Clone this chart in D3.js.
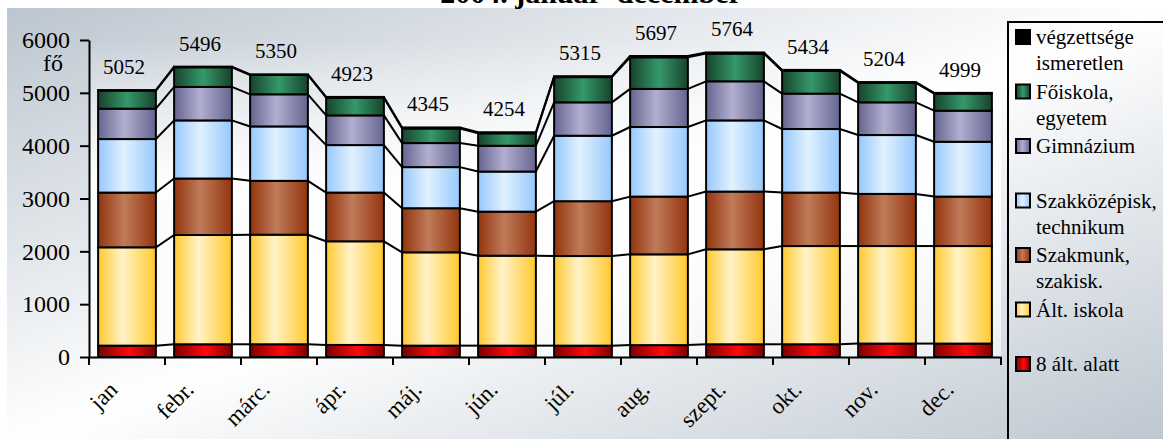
<!DOCTYPE html>
<html>
<head>
<meta charset="utf-8">
<script src="https://cdn.jsdelivr.net/npm/d3@7"></script>
<style>
  html, body { margin: 0; padding: 0; background: #fff; overflow: hidden; }
  svg text { font-family: 'Liberation Serif', 'Times New Roman', serif; fill: #000; }
</style>
</head>
<body>
<div id="chart"></div>
<script>
document.addEventListener('DOMContentLoaded', init, false);

var width = 1163;
var height = 439;

var margin = { top: 40, left: 89, right: 162, bottom: 82 };

// data (fő)
var months = ['jan', 'febr.', 'márc.', 'ápr.', 'máj.', 'jún.', 'júl.', 'aug.', 'szept.', 'okt.', 'nov.', 'dec.'];
var alatt8     = [215, 241, 241, 228, 215, 215, 215, 225, 241, 241, 254, 254];
var altIskola  = [1861, 2068, 2074, 1962, 1766, 1702, 1696, 1718, 1797, 1859, 1846, 1846];
var szakmunk   = [1036, 1069, 1019, 922, 835, 834, 1038, 1093, 1093, 1012, 987, 936];
var szakkozep  = [1013, 1100, 1030, 899, 778, 759, 1239, 1317, 1347, 1203, 1114, 1038];
var gimnazium  = [575, 634, 608, 562, 455, 488, 632, 721, 740, 670, 619, 588];
var foiskola   = [342, 372, 366, 335, 276, 236, 477, 598, 524, 429, 366, 322];
var ismeretlen = [10, 12, 12, 15, 20, 20, 18, 25, 22, 20, 18, 15];

var seriesKeys = ['alatt8', 'altIskola', 'szakmunk', 'szakkozep', 'gimnazium', 'foiskola', 'ismeretlen'];
var legendLabels = [
  ['8 ált. alatt'],
  ['Ált. iskola'],
  ['Szakmunk,', 'szakisk.'],
  ['Szakközépisk,', 'technikum'],
  ['Gimnázium'],
  ['Főiskola,', 'egyetem'],
  ['végzettsége', 'ismeretlen']
];
var yTicks = [0, 1000, 2000, 3000, 4000, 5000, 6000];

// edge colour, light colour, position of the light colour
var fills = {
  alatt8:     ['#7e0000', '#ff0a0a', 0.55],
  altIskola:  ['#ffc82e', '#fff3c8', 0.42],
  szakmunk:   ['#93340f', '#bf7b5a', 0.45],
  szakkozep:  ['#96c8fb', '#e2f1ff', 0.45],
  gimnazium:  ['#64648f', '#b2afd0', 0.45],
  foiskola:   ['#17432c', '#35996a', 0.5],
  ismeretlen: ['#000000', '#000000', 0.5]
};

function init() {

  var svg = d3.select('#chart')
    .append('svg')
      .attr('width', width)
      .attr('height', height);

  var defs = svg.append('defs');
  drawBackground(svg, defs);

  var table = months.map(function (m, i) {
    var row = { month: m };
    row.alatt8 = alatt8[i];
    row.altIskola = altIskola[i];
    row.szakmunk = szakmunk[i];
    row.szakkozep = szakkozep[i];
    row.gimnazium = gimnazium[i];
    row.foiskola = foiskola[i];
    row.ismeretlen = ismeretlen[i];
    return row;
  });

  var stacked = d3.stack().keys(seriesKeys)(table);

  var x = d3.scaleBand()
    .domain(months)
    .range([margin.left, width - margin.right])
    .paddingInner(0.24)
    .paddingOuter(0.12);

  var y = d3.scaleLinear()
    .domain([0, 6000])
    .range([height - margin.bottom, margin.top]);

  seriesKeys.forEach(function (k) {
    var f = fills[k];
    var g = defs.append('linearGradient')
      .attr('id', 'g-' + k)
      .attr('x1', 0).attr('x2', 1).attr('y1', 0).attr('y2', 0);
    g.append('stop').attr('offset', 0).attr('stop-color', f[0]);
    g.append('stop').attr('offset', f[2]).attr('stop-color', f[1]);
    g.append('stop').attr('offset', 1).attr('stop-color', f[0]);
  });

  drawSeriesLines(svg, stacked, x, y);
  drawBars(svg, stacked, x, y);
  drawAxis(svg, x, y);
  drawTotals(svg, table, x, y);
  drawLegend(svg);
}

function drawBackground(svg, defs) {

  var bg = defs.append('linearGradient')
    .attr('id', 'bg')
    .attr('x1', 0).attr('y1', 0).attr('x2', 1).attr('y2', 1);
  bg.append('stop').attr('offset', 0).attr('stop-color', '#bcc6d0');
  bg.append('stop').attr('offset', 0.5).attr('stop-color', '#ffffff');
  bg.append('stop').attr('offset', 1).attr('stop-color', '#bcc6d0');

  var pa = defs.append('linearGradient')
    .attr('id', 'plotbg')
    .attr('x1', 0).attr('y1', 0).attr('x2', 0).attr('y2', 1);
  pa.append('stop').attr('offset', 0).attr('stop-color', '#fff').attr('stop-opacity', 0);
  pa.append('stop').attr('offset', 0.45).attr('stop-color', '#fff').attr('stop-opacity', 0.95);
  pa.append('stop').attr('offset', 1).attr('stop-color', '#fff').attr('stop-opacity', 0.6);

  svg.append('rect')
    .attr('x', 7)
    .attr('y', 8)
    .attr('width', width)
    .attr('height', height)
    .attr('fill', 'url(#bg)');

  svg.append('rect')
    .attr('x', margin.left)
    .attr('y', margin.top)
    .attr('width', width - margin.left - margin.right)
    .attr('height', height - margin.top - margin.bottom)
    .attr('fill', 'url(#plotbg)');

  // title, mostly cut off by the top edge
  svg.append('text')
    .attr('x', 591)
    .attr('y', 3)
    .style('text-anchor', 'middle')
    .style('font-size', '30px')
    .style('font-weight', 'bold')
    .text('2004. január–december');
}

function drawSeriesLines(svg, stacked, x, y) {

  var segs = [];
  stacked.forEach(function (s) {
    for (var i = 0; i < s.length - 1; i++) {
      segs.push({ a: s[i], b: s[i + 1], ia: i });
    }
  });

  svg.append('g')
    .selectAll('line')
      .data(segs)
      .enter()
    .append('line')
      .attr('x1', function (d) { return x(months[d.ia]) + x.bandwidth(); })
      .attr('x2', function (d) { return x(months[d.ia + 1]); })
      .attr('y1', function (d) { return y(d.a[1]); })
      .attr('y2', function (d) { return y(d.b[1]); })
      .attr('stroke', '#000')
      .attr('stroke-width', 2);
}

function drawBars(svg, stacked, x, y) {

  svg.append('g')
    .selectAll('g')
      .data(stacked)
      .enter()
    .append('g')
      .attr('fill', function (d) { return 'url(#g-' + d.key + ')'; })
    .selectAll('rect')
      .data(function (d) { return d; })
      .enter()
    .append('rect')
      .attr('x', function (d) { return x(d.data.month); })
      .attr('y', function (d) { return y(d[1]); })
      .attr('width', x.bandwidth())
      .attr('height', function (d) { return y(d[0]) - y(d[1]); })
      .attr('stroke', '#000')
      .attr('stroke-width', 2);
}

function drawAxis(svg, x, y) {

  var base = height - margin.bottom;

  var yAxis = svg.append('g')
      .attr('transform', 'translate(' + margin.left + ',0)')
      .call(d3.axisLeft(y)
        .tickValues(yTicks)
        .tickFormat(d3.format('d'))
        .tickSize(9)
        .tickSizeOuter(0)
        .tickPadding(10));
  yAxis.attr('font-family', null).attr('font-size', null);
  yAxis.selectAll('path, line').attr('stroke', '#000').attr('stroke-width', 2);
  yAxis.selectAll('text').style('font-size', '24px').attr('fill', '#000');

  svg.append('text')
    .attr('x', 53)
    .attr('y', 71)
    .style('text-anchor', 'middle')
    .style('font-size', '24px')
    .text('fő');

  var xAxis = svg.append('g')
      .attr('transform', 'translate(0,' + base + ')')
      .call(d3.axisBottom(x).tickSize(0).tickSizeOuter(0).tickFormat(''));
  xAxis.select('path').attr('stroke', '#000').attr('stroke-width', 2);

  var bounds = months.map(function (m) { return x(m) - x.step() * x.paddingInner() / 2; });
  bounds.push(width - margin.right);

  svg.append('g')
    .selectAll('line')
      .data(bounds)
      .enter()
    .append('line')
      .attr('x1', function (d) { return d; })
      .attr('x2', function (d) { return d; })
      .attr('y1', base)
      .attr('y2', base + 8)
      .attr('stroke', '#000')
      .attr('stroke-width', 2);

  svg.append('g')
    .selectAll('text')
      .data(months)
      .enter()
    .append('text')
      .attr('transform', function (d) {
        return 'translate(' + (x(d) + x.bandwidth() / 2 - 8) + ',' + (base + 34) + ') rotate(-45)';
      })
      .style('text-anchor', 'end')
      .style('font-size', '23px')
      .text(function (d) { return d; });
}

function drawTotals(svg, table, x, y) {

  svg.append('g')
    .selectAll('text')
      .data(table)
      .enter()
    .append('text')
      .attr('x', function (d) { return x(d.month) + x.bandwidth() / 2 - 3; })
      .attr('y', function (d) {
        var t = d3.sum(seriesKeys, function (k) { return d[k]; });
        return y(t) - 16;
      })
      .style('text-anchor', 'middle')
      .style('font-size', '21px')
      .text(function (d) { return d3.sum(seriesKeys, function (k) { return d[k]; }); });
}

function drawLegend(svg) {

  var lg = svg.append('g');

  lg.append('rect')
    .attr('x', 1008)
    .attr('y', 22)
    .attr('width', 200)
    .attr('height', 440)
    .attr('fill', 'none')
    .attr('stroke', '#000')
    .attr('stroke-width', 2);

  var order = seriesKeys.slice().reverse();
  var labels = legendLabels.slice().reverse();

  var items = lg.selectAll('.item')
      .data(order)
      .enter()
    .append('g')
      .attr('class', 'item')
      .attr('transform', function (d, i) { return 'translate(1016,' + (30 + i * 54.5) + ')'; });

  items.append('rect')
    .attr('width', 14)
    .attr('height', 14)
    .attr('fill', function (d) { return 'url(#g-' + d + ')'; })
    .attr('stroke', '#000')
    .attr('stroke-width', 2);

  items.append('text')
    .attr('x', 20)
    .attr('y', 14)
    .style('font-size', '21px')
    .selectAll('tspan')
      .data(function (d, i) { return labels[i]; })
      .enter()
    .append('tspan')
      .attr('x', 20)
      .attr('dy', function (d, j) { return j === 0 ? 0 : 26; })
      .text(function (d) { return d; });
}
</script>
</body>
</html>
